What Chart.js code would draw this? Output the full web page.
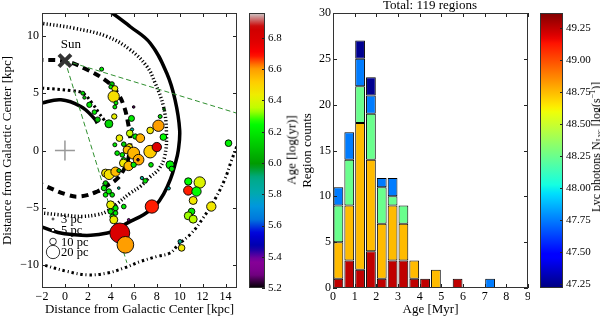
<!DOCTYPE html>
<html>
<head>
<meta charset="utf-8">
<script src="https://cdn.jsdelivr.net/npm/chart.js@4.4.1/dist/chart.umd.min.js"></script>
<style>
  html, body { margin: 0; padding: 0; background: #fff; }
  #wrap { position: relative; width: 600px; height: 317px; overflow: hidden; font-family: "Liberation Serif", serif; }
  #wrap canvas { position: absolute; top: 0; }
  .vlab { position: absolute; white-space: nowrap; font-size: 13px; line-height: 13px; color: #000; transform: translate(-50%, -50%) rotate(-90deg); }
  .vlab sub { font-size: 8px; line-height: 0; vertical-align: -2px; }
  .vlab sup { font-size: 8px; line-height: 0; vertical-align: 5px; }
  #histTitle { position: absolute; left: 430px; top: 5px; transform: translate(-50%, -50%); font-size: 13px; white-space: nowrap; }
</style>
</head>
<body>
<div id="wrap">
  <canvas id="mapChart" width="240" height="317" style="left:0"></canvas>
  <canvas id="ageBar" width="60" height="317" style="left:240px"></canvas>
  <canvas id="histChart" width="230" height="317" style="left:300px"></canvas>
  <canvas id="lycBar" width="70" height="317" style="left:530px"></canvas>
  <div class="vlab" style="left:291px;top:150px">Age [log(yr)]</div>
  <div class="vlab" style="left:595.5px;top:147px;font-size:12px;line-height:12px">Lyc photons N<sub>Lyc</sub> [log(s<sup>−1</sup>)]</div>
  <div id="histTitle"></div>
</div>
<script>
// ---- HII regions (position in kpc, size in pc, age in log yr)
const regionX = [3.2, 4.1, 4.0, 4.35, 4.25, 4.45, 4.35, 4.3, 3.83, 5.99, 5.8, 5.85, 5.65, 4.75, 6.14, 6.57, 4.35, 5.13, 5.6, 5.42,
  5.99, 6.42, 5.0, 4.55, 5.13, 5.1, 5.55, 5.99, 6.37, 7.43, 8.01, 8.15, 8.3, 7.43, 8.58, 8.64, 7.5, 9.16, 9.31, 6.71,
  7.0, 9.05, 14.26, 3.54, 3.85, 4.41, 4.7, 3.54, 3.4, 3.83, 4.12, 3.54, 4.69, 3.98, 4.41, 5.13, 3.98, 4.41, 4.12, 4.26,
  4.78, 5.27, 5.56, 7.58, 10.75, 11.75, 10.75, 11.47, 11.18, 12.76, 11.04, 10.75, 11.18, 10.03, 10.17, 1.56, 1.7, 2.13, 2.57, 2.85];
const regionY = [7.1, 5.8, 5.55, 5.4, 4.71, 4.15, 3.8, 2.97, 2.33, 3.8, 2.8, 1.83, 1.5, 1.08, 1.22, 1.08, 0.5, 0.55, 0.3, 0.05,
  -0.23, -0.8, -0.38, -0.23, -0.85, -1.1, -1.35, -1.25, -0.81, -0.1, 0.3, 2.16, 2.97, 1.75, 1.17, 3.61, -1.25, -1.25, -1.6, -2.4,
  -2.65, -3.3, 0.64, -1.97, -2.1, -1.85, -1.75, -2.84, -3.28, -3.57, -3.87, -3.87, -3.28, -4.74, -5.03, -4.89, -5.32, -5.46, -5.76, -6.05,
  -7.2, -8.23, -6.05, -4.89, -2.7, -2.79, -3.49, -3.58, -4.36, -4.89, -5.32, -5.7, -5.99, -7.94, -8.5, 5.0, 4.62, 3.99, 3.35, 2.7];
const regionSize = [6, 7, 6, 9, 17, 6, 6, 8, 12, 4, 9, 5, 10, 10, 8, 13, 6, 7, 10, 12,
  18, 16, 7, 7, 8, 12, 14, 8, 4, 19, 14, 17, 6, 10, 10, 4, 7, 12, 8, 5,
  7, 5, 10, 12, 15, 14, 6, 7, 8, 8, 7, 7, 4, 12, 8, 7, 8, 7, 7, 12,
  30, 25, 4, 20, 11, 17, 14, 14, 12, 14, 10, 12, 12, 6, 10, 6, 5, 8, 7, 8];
const regionAge = [6.2, 6.1, 6.2, 6.42, 6.47, 6.2, 6.2, 6.42, 6.15, 5.25, 6.2, 5.85, 6.36, 6.43, 6.2, 6.57, 6.2, 6.15, 6.45, 6.55,
  6.56, 6.58, 6.2, 6.2, 6.2, 6.44, 6.55, 6.2, 5.25, 6.52, 6.8, 6.6, 6.15, 6.45, 6.25, 6.0, 6.2, 6.22, 6.2, 5.9,
  6.2, 5.85, 6.22, 6.45, 6.47, 6.55, 6.1, 6.1, 6.2, 6.2, 6.15, 6.22, 5.9, 6.42, 6.2, 6.2, 6.2, 6.2, 6.2, 6.43,
  6.8, 6.6, 5.3, 6.68, 6.25, 6.4, 6.68, 6.25, 6.45, 6.45, 6.2, 6.33, 6.35, 5.9, 6.45, 6.15, 6.1, 6.2, 6.2, 6.1];

const armOuterSolid = [[3.0, 12.6], [4.1, 12.0], [5.7, 10.8], [7.44, 9.36], [8.88, 6.74], [9.6, 4.42], [10.0, 1.8], [9.88, 0.0],
  [9.6, -1.2], [9.2, -2.5], [8.6, -3.8], [7.9, -4.8], [6.85, -5.6], [5.42, -6.34], [4.55, -6.9], [3.7, -7.2], [2.25, -7.4],
  [0.8, -7.35], [-0.6, -7.15], [-2.07, -6.65], [-2.5, -6.4]];
const armInnerSolid = [[-2.5, 4.0], [-2.07, 4.13], [-0.35, 4.42], [1.38, 3.84], [2.54, 2.82], [2.82, 2.38]];
const armDashed = [[-2.5, 7.95], [-2.07, 7.91], [0, 7.8], [1.67, 7.18], [3.69, 6.02], [4.6, 5.0], [5.13, 3.9], [5.5, 2.4],
  [5.7, 0.8], [5.5, -0.8], [5.0, -1.9], [4.4, -2.6], [3.69, -3.05], [2.82, -3.58], [1.38, -4.01], [0.23, -3.87], [-1.93, -3.0], [-2.5, -2.7]];
const armDotted = [[-2.5, 11.15], [-2.07, 11.1], [0.81, 10.67], [3.69, 9.94], [5.7, 8.78], [7.15, 7.33], [7.87, 5.87], [8.6, 3.8],
  [8.85, 1.5], [8.7, -0.5], [8.2, -1.6], [7.43, -2.3], [6.57, -3.14], [5.7, -3.72], [4.6, -4.6], [3.69, -5.3], [2.8, -5.6],
  [1.5, -5.75], [0, -5.65], [-2.07, -5.45], [-2.5, -5.4]];
const armDottedShort = [[-2.5, 5.45], [-1.93, 5.44], [0.52, 5.23], [1.56, 5.0], [2.4, 4.1], [2.97, 3.26], [3.4, 2.68], [3.8, 2.0]];
const armDashDot = [[-2.5, -9.8], [-1.93, -9.97], [0.23, -10.56], [1.96, -10.85], [3.69, -10.7], [5.13, -10.26], [6.57, -9.69],
  [8.01, -9.25], [9.16, -8.95], [9.88, -8.23], [11.04, -7.21], [12.04, -5.9], [13.05, -4.3], [13.92, -2.56], [14.49, -0.96],
  [14.93, 0.21], [15.4, 1.4]];

const sunPos = [0, 7.85];
const galCenter = [0, 0];
const sightLineA = [[0, 7.85], [15, 3.25]];
const sightLineB = [[0, 7.85], [5.4, -9.8]];
const sizeLegend = [3, 5, 10, 20];

const mapXTicks = [-2, 0, 2, 4, 6, 8, 10, 12, 14];
const mapYTicks = [-10, -5, 0, 5, 10];
const ageTicks = [5.2, 5.4, 5.6, 5.8, 6.0, 6.2, 6.4, 6.6, 6.8];
const ageRange = [5.2, 6.96];

// ---- histogram: age bins (Myr) stacked by Lyc photon level
const ageBins = [0.25, 0.75, 1.25, 1.75, 2.25, 2.75, 3.25, 3.75, 4.25, 4.75, 5.25, 5.75, 6.25, 6.75, 7.25];
const lycLevels = [49.25, 48.75, 48.25, 47.75, 47.25];
const count4925 = [1, 3, 2, 4, 1, 3, 3, 1, 1, 0, 0, 1, 0, 0, 0];
const count4875 = [4, 6, 16, 10, 6, 6, 4, 2, 0, 2, 0, 0, 0, 0, 0];
const count4825 = [4, 5, 4, 5, 4, 1, 2, 0, 0, 0, 0, 0, 0, 0, 0];
const count4775 = [2, 3, 3, 2, 1, 2, 0, 0, 0, 0, 0, 0, 0, 0, 1];
const count4725 = [0, 0, 2, 2, 0, 0, 0, 0, 0, 0, 0, 0, 0, 0, 0];
const histXTicks = [0, 1, 2, 3, 4, 5, 6, 7, 8, 9];
const histYTicks = [0, 5, 10, 15, 20, 25, 30];
const lycTicks = [47.25, 47.5, 47.75, 48.0, 48.25, 48.5, 48.75, 49.0, 49.25];
const lycRange = [47.22, 49.37];

// ---- colormaps
const NIPY = [[0,0,0,0],[0.05,0.4667,0,0.5333],[0.10,0.5333,0,0.6],[0.15,0,0,0.6667],[0.20,0,0,0.8667],
  [0.25,0,0.4667,0.8667],[0.30,0,0.6,0.8667],[0.35,0,0.6667,0.6667],[0.40,0,0.6667,0.5333],[0.45,0,0.6,0],
  [0.50,0,0.7333,0],[0.55,0,0.8667,0],[0.60,0,1,0],[0.65,0.7333,1,0],[0.70,0.9333,0.9333,0],[0.75,1,0.8,0],
  [0.80,1,0.6,0],[0.85,1,0,0],[0.90,0.8667,0,0],[0.95,0.8,0,0],[1,0.8,0.8,0.8]];

function rgb(r, g, b){
  return `rgb(${Math.round(r*255)},${Math.round(g*255)},${Math.round(b*255)})`;
}
function nipy(t){
  t = Math.max(0, Math.min(1, t));
  for(let i = 1; i < NIPY.length; i++){
    if(t <= NIPY[i][0]){
      const a = NIPY[i-1], b = NIPY[i];
      const f = (t - a[0]) / (b[0] - a[0]);
      return rgb(a[1]+(b[1]-a[1])*f, a[2]+(b[2]-a[2])*f, a[3]+(b[3]-a[3])*f);
    }
  }
  return rgb(0.8, 0.8, 0.8);
}
function seg(t, pts){
  for(let i = 1; i < pts.length; i++){
    if(t <= pts[i][0]){
      const f = (t - pts[i-1][0]) / (pts[i][0] - pts[i-1][0]);
      return pts[i-1][1] + (pts[i][1] - pts[i-1][1]) * f;
    }
  }
  return pts[pts.length-1][1];
}
function jet(t){
  t = Math.max(0, Math.min(1, t));
  const r = seg(t, [[0,0],[0.35,0],[0.66,1],[0.89,1],[1,0.5]]);
  const g = seg(t, [[0,0],[0.125,0],[0.375,1],[0.64,1],[0.91,0],[1,0]]);
  const b = seg(t, [[0,0.5],[0.11,1],[0.34,1],[0.65,0],[1,0]]);
  return rgb(r, g, b);
}
const ageColor = v => nipy((v - ageRange[0]) / (ageRange[1] - ageRange[0]));
const lycColor = v => jet((v - lycRange[0]) / (lycRange[1] - lycRange[0]));

// ---- shared helpers
const SERIF = '"Liberation Serif", serif';
const tickFont = { family: SERIF, size: 12 };
const barTickFont = { family: SERIF, size: 11 };
const titleFont = { family: SERIF, size: 13 };
const fixedTicks = arr => s => { s.ticks = arr.map(v => ({ value: v })); };
const minus = v => String(v).replace('-', '\u2212');
const toXY = pts => pts.map(p => ({ x: p[0], y: p[1] }));

// frame + inward ticks like matplotlib
const frameTicks = {
  id: 'frameTicks',
  afterDraw(chart, args, opts){
    const { ctx, chartArea: a, scales } = chart;
    const len = opts.len || 4;
    ctx.save();
    ctx.strokeStyle = '#222';
    ctx.lineWidth = 1;
    Object.values(scales).forEach(s => {
      if(!s.options.display) return;
      s.ticks.forEach(t => {
        const p = Math.round(s.getPixelForValue(t.value)) + 0.5;
        ctx.beginPath();
        if(s.isHorizontal()){
          ctx.moveTo(p, a.bottom); ctx.lineTo(p, a.bottom - len);
          ctx.moveTo(p, a.top); ctx.lineTo(p, a.top + len);
        }else{
          if(!opts.rightOnly){ ctx.moveTo(a.left, p); ctx.lineTo(a.left + len, p); }
          ctx.moveTo(a.right, p); ctx.lineTo(a.right - len, p);
        }
        ctx.stroke();
      });
    });
    ctx.strokeStyle = '#333';
    ctx.strokeRect(Math.round(a.left) + 0.5, Math.round(a.top) + 0.5, Math.round(a.right - a.left) - 1, Math.round(a.bottom - a.top) - 1);
    ctx.restore();
  }
};

// colour bar fill from the y scale
const colorFill = {
  id: 'colorFill',
  beforeDatasetsDraw(chart, args, opts){
    const { ctx, chartArea: a, scales } = chart;
    const y = scales.y;
    const grad = ctx.createLinearGradient(0, a.bottom, 0, a.top);
    const n = 64;
    for(let i = 0; i <= n; i++){
      const v = y.min + (y.max - y.min) * i / n;
      grad.addColorStop(i / n, opts.cmap(v));
    }
    ctx.save();
    ctx.fillStyle = grad;
    ctx.fillRect(a.left, a.top, a.right - a.left, a.bottom - a.top);
    ctx.restore();
  }
};

// Sun label and size legend on the map
const mapNotes = {
  id: 'mapNotes',
  afterDatasetsDraw(chart){
    const { ctx, chartArea: a, scales: { x, y } } = chart;
    ctx.save();
    ctx.fillStyle = '#000';
    ctx.font = `13px ${SERIF}`;
    ctx.textAlign = 'center';
    ctx.textBaseline = 'middle';
    ctx.fillText('Sun', x.getPixelForValue(sunPos[0]) + 6, y.getPixelForValue(sunPos[1]) - 16);

    const rows = [-69, -58, -46.5, -36];
    ctx.textAlign = 'left';
    ctx.font = `12.5px ${SERIF}`;
    sizeLegend.forEach((pc, i) => {
      const cy = a.bottom + rows[i];
      const cx = a.left + 11;
      ctx.beginPath();
      ctx.arc(cx, cy, pc / 3, 0, Math.PI * 2);
      ctx.fillStyle = '#fff';
      ctx.fill();
      ctx.strokeStyle = '#000';
      ctx.lineWidth = 0.8;
      ctx.stroke();
      ctx.fillStyle = '#000';
      ctx.fillText(pc + ' pc', a.left + 19, cy + 1);
    });
    ctx.restore();
  }
};

// ---- map of the Galaxy
function armSet(pts, width, dash, cap){
  return {
    type: 'scatter', data: toXY(pts), showLine: true, tension: 0.4,
    borderColor: '#000', borderWidth: width, borderDash: dash || [], borderCapStyle: cap || 'butt',
    pointRadius: 0, clip: 0, order: 5
  };
}

new Chart(document.getElementById('mapChart'), {
  type: 'scatter',
  data: {
    datasets: [
      { type: 'scatter', data: toXY([sunPos]), pointStyle: 'crossRot', radius: 8.5, borderWidth: 4,
        borderColor: '#333', backgroundColor: '#333', order: 0 },
      { type: 'bubble',
        data: regionX.map((x, i) => ({ x, y: regionY[i], r: regionSize[i] / 3 })),
        backgroundColor: regionAge.map(ageColor), borderColor: '#000', borderWidth: 0.9, order: 1, clip: 0 },
      { type: 'scatter', data: toXY([galCenter]), pointStyle: 'cross', radius: 10, borderWidth: 1.5,
        borderColor: '#999', order: 2 },
      { type: 'scatter', data: toXY(sightLineA), showLine: true, borderColor: '#2f8f2f', borderWidth: 1,
        borderDash: [5, 3], pointRadius: 0, order: 3, clip: 0 },
      { type: 'scatter', data: toXY(sightLineB), showLine: true, borderColor: '#2f8f2f', borderWidth: 1,
        borderDash: [5, 3], pointRadius: 0, order: 3, clip: 0 },
      armSet(armOuterSolid, 3.5),
      armSet(armInnerSolid, 3.5),
      armSet(armDashed, 4, [7, 5]),
      armSet(armDotted, 3.5, [1.2, 2.2]),
      armSet(armDottedShort, 3, [2.5, 2.8]),
      armSet(armDashDot, 3, [2.5, 2.8, 1, 2.8])
    ]
  },
  options: {
    responsive: false, animation: false, events: [],
    layout: { autoPadding: false, padding: { top: 13, right: 3, bottom: 0, left: 0 } },
    plugins: { legend: { display: false }, tooltip: { enabled: false }, frameTicks: {} },
    scales: {
      x: {
        type: 'linear', min: -2, max: 15,
        grid: { display: false, drawTicks: false }, border: { display: false },
        afterBuildTicks: fixedTicks(mapXTicks),
        afterFit: s => { s.height = 29; s.paddingLeft = 0; s.paddingRight = 0; },
        ticks: { font: tickFont, color: '#000', padding: 2, maxRotation: 0, autoSkip: false, callback: minus },
        title: { display: true, text: 'Distance from Galactic Center [kpc]', font: titleFont, color: '#000', padding: 0 }
      },
      y: {
        type: 'linear', min: -12, max: 12,
        grid: { display: false, drawTicks: false }, border: { display: false },
        afterBuildTicks: fixedTicks(mapYTicks),
        afterFit: s => { s.width = 42; s.paddingTop = 0; s.paddingBottom = 0; },
        ticks: { font: tickFont, color: '#000', padding: 3, autoSkip: false, callback: minus },
        title: { display: true, text: 'Distance from Galactic Center [kpc]', font: titleFont, color: '#000', padding: 0 }
      }
    }
  },
  plugins: [frameTicks, mapNotes]
});

// ---- colour bars
function colorBar(id, range, ticks, digits, cmap, padLeft, axisWidth){
  new Chart(document.getElementById(id), {
    type: 'scatter',
    data: { datasets: [] },
    options: {
      responsive: false, animation: false, events: [],
      layout: { autoPadding: false, padding: { top: 13, bottom: 29, left: padLeft, right: 0 } },
      plugins: { legend: { display: false }, tooltip: { enabled: false }, colorFill: { cmap }, frameTicks: { rightOnly: true, len: 3 } },
      scales: {
        x: { display: false, min: 0, max: 1 },
        y: {
          position: 'right', min: range[0], max: range[1],
          grid: { display: false, drawTicks: false }, border: { display: false },
          afterBuildTicks: fixedTicks(ticks),
          afterFit: s => { s.width = axisWidth; s.paddingTop = 0; s.paddingBottom = 0; },
          ticks: { font: barTickFont, color: '#000', padding: 3, autoSkip: false, callback: v => v.toFixed(digits) }
        }
      }
    },
    plugins: [colorFill, frameTicks]
  });
}
colorBar('ageBar', ageRange, ageTicks, 1, ageColor, 9, 35);
colorBar('lycBar', lycRange, lycTicks, 2, lycColor, 10, 37);

// ---- stacked histogram
const lycCounts = [count4925, count4875, count4825, count4775, count4725];
const totalRegions = lycCounts.flat().reduce((s, v) => s + v, 0);
document.getElementById('histTitle').textContent = `Total: ${totalRegions} regions`;

new Chart(document.getElementById('histChart'), {
  type: 'bar',
  data: {
    datasets: lycLevels.map((lv, i) => ({
      label: String(lv),
      data: ageBins.map((x, j) => ({ x, y: lycCounts[i][j] || null })),
      backgroundColor: lycColor(lv), borderColor: '#000', borderWidth: 1, borderSkipped: false,
      barPercentage: 0.9, categoryPercentage: 1
    }))
  },
  options: {
    responsive: false, animation: false, events: [],
    layout: { autoPadding: false, padding: { top: 13, right: 2, bottom: 0, left: 0 } },
    plugins: { legend: { display: false }, tooltip: { enabled: false }, frameTicks: {} },
    scales: {
      x: {
        type: 'linear', min: 0, max: 9, offset: false, stacked: true,
        grid: { display: false, drawTicks: false }, border: { display: false },
        afterBuildTicks: fixedTicks(histXTicks),
        afterFit: s => { s.height = 29; s.paddingLeft = 0; s.paddingRight = 0; },
        ticks: { font: tickFont, color: '#000', padding: 2, maxRotation: 0, autoSkip: false },
        title: { display: true, text: 'Age [Myr]', font: titleFont, color: '#000', padding: 0 }
      },
      y: {
        min: 0, max: 30, stacked: true,
        grid: { display: false, drawTicks: false }, border: { display: false },
        afterBuildTicks: fixedTicks(histYTicks),
        afterFit: s => { s.width = 33; s.paddingTop = 0; s.paddingBottom = 0; },
        ticks: { font: tickFont, color: '#000', padding: 2, autoSkip: false },
        title: { display: true, text: 'Region counts', font: titleFont, color: '#000', padding: 0 }
      }
    }
  },
  plugins: [frameTicks]
});
</script>
</body>
</html>
